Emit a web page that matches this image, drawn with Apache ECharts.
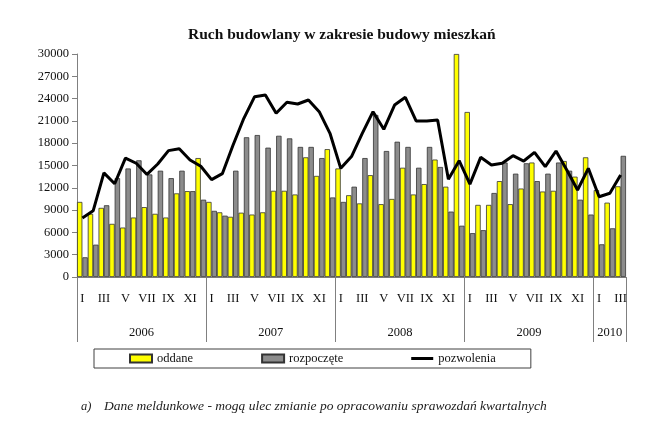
<!DOCTYPE html>
<html>
<head>
<meta charset="utf-8">
<script src="https://cdn.jsdelivr.net/npm/echarts@6/dist/echarts.min.js"></script>
<style>
html,body{margin:0;padding:0;background:#fff;}
#c{width:664px;height:432px;}
</style>
</head>
<body>
<div id="c"></div>
<script>
var years = ['2006', '2007', '2008', '2009', '2010'];
var monthRoman = ['I','II','III','IV','V','VI','VII','VIII','IX','X','XI','XII'];
var monthsPerYear = [12, 12, 12, 12, 3];

var oddane = [
  10100, 8500, 9300, 7150, 6650, 8000, 9400, 8500, 8000, 11250, 11550, 16000,
  10100, 8700, 8100, 8650, 8400, 8700, 11600, 11600, 11100, 16100, 13600, 17200,
  14600, 11000, 9900, 13700, 9800, 10500, 14700, 11100, 12500, 15800, 12150, 30000,
  22200, 9700, 9700, 12900, 9800, 11900, 15400, 11500, 11600, 15600, 13500, 16100,
  11700, 10000, 12200
];
var rozpoczete = [
  2650, 4350, 9650, 13300, 14600, 15700, 13800, 14300, 13300, 14300, 11550, 10400,
  8900, 8250, 14300, 18800, 19100, 17400, 19000, 18650, 17500, 17500, 16000, 10700,
  10100, 12150, 16000, 21800, 16950, 18200, 17500, 14700, 17500, 14800, 8800, 6900,
  5900, 6300, 11300, 15400, 13900, 15300, 12900, 13900, 15400, 14300, 10400, 8400,
  4400, 6550, 16300
];
var pozwolenia = [
  7950, 8900, 14000, 12550, 16000, 15300, 13800, 15200, 17000, 17250, 15750, 14900,
  13100, 13900, 17760, 21350, 24260, 24480, 22020, 23500, 23270, 23810, 22240, 19330,
  14620, 16200, 19330, 22240, 19870, 23130, 24170, 20990, 20990, 21120, 13140, 15650,
  12500, 16100, 15070, 15300, 16320, 15600, 16770, 14840, 16950, 14390, 11700, 14620,
  10800, 11260, 13720
];
var yTicks = [0, 3000, 6000, 9000, 12000, 15000, 18000, 21000, 24000, 27000, 30000];

var categories = [];
var yearStarts = [];
var yearCenters = [];
var n = 0;
years.forEach(function (y, yi) {
  yearStarts.push(n);
  yearCenters.push(n + monthsPerYear[yi] / 2);
  for (var m = 0; m < monthsPerYear[yi]; m++) {
    categories.push(y + '-' + (m + 1));
  }
  n += monthsPerYear[yi];
});
yearStarts.push(n);

var serif = '"Liberation Serif", "Times New Roman", serif';
var lineIcon = 'path://M0,0L22,0L22,0Z M0,2.6L22,2.6L22,5.4L0,5.4Z M0,8L22,8L22,8Z';
var chart = echarts.init(document.getElementById('c'), null, {renderer: 'canvas'});
chart.setOption({
  animation: false,
  backgroundColor: '#fff',
  textStyle: {fontFamily: serif},
  title: [
    {
      text: 'Ruch budowlany w zakresie budowy mieszkań',
      left: 183, top: 22,
      textStyle: {fontFamily: serif, fontSize: 15.5, fontWeight: 'bold', color: '#111'}
    },
    {
      text: 'a)',
      left: 76, top: 395,
      textStyle: {fontFamily: serif, fontSize: 12.5, fontStyle: 'italic', fontWeight: 'normal', color: '#222'}
    },
    {
      text: 'Dane meldunkowe - mogą ulec zmianie po opracowaniu sprawozdań kwartalnych',
      left: 99, top: 394,
      textStyle: {fontFamily: serif, fontSize: 13.5, fontStyle: 'italic', fontWeight: 'normal', color: '#222'}
    }
  ],
  legend: {
    left: 94, top: 349,
    padding: [3, 35, 3, 35],
    borderColor: '#404040', borderWidth: 1,
    itemWidth: 22, itemHeight: 8, itemGap: 68,
    textStyle: {fontFamily: serif, fontSize: 12.5, color: '#111'},
    data: [
      {name: 'oddane', icon: 'rect'},
      {name: 'rozpoczęte', icon: 'rect'},
      {name: 'pozwolenia', icon: lineIcon}
    ]
  },
  grid: {left: 77, right: 38, top: 54, bottom: 155, containLabel: false},
  xAxis: [
    {
      type: 'category',
      data: categories,
      boundaryGap: true,
      axisLine: {show: true, lineStyle: {color: '#808080', width: 1}},
      axisTick: {show: false},
      axisLabel: {
        interval: 0,
        margin: 15,
        fontFamily: serif, fontSize: 12.5, color: '#111',
        formatter: function (v) {
          var m = parseInt(v.split('-')[1], 10) - 1;
          return m % 2 === 0 ? monthRoman[m] : '';
        }
      },
      splitLine: {show: false}
    },
    {
      type: 'value',
      position: 'bottom',
      min: 0, max: n,
      axisLine: {show: false},
      splitLine: {show: false},
      axisTick: {
        show: true, inside: false, length: 65,
        customValues: yearStarts,
        lineStyle: {color: '#808080', width: 1}
      },
      axisLabel: {
        show: true, margin: 49,
        customValues: yearCenters,
        fontFamily: serif, fontSize: 12.5, color: '#111',
        formatter: function (v) {
          var i = yearCenters.indexOf(v);
          return i >= 0 ? years[i] : '';
        }
      }
    }
  ],
  yAxis: {
    type: 'value',
    min: yTicks[0], max: yTicks[yTicks.length - 1], interval: 3000,
    axisLine: {show: true, lineStyle: {color: '#808080', width: 1}},
    axisTick: {show: true, inside: false, length: 5, lineStyle: {color: '#808080'}},
    axisLabel: {
      margin: 8, fontFamily: serif, fontSize: 12.5, color: '#111',
      formatter: function (v) { return String(v); }
    },
    splitLine: {show: false}
  },
  series: [
    {
      name: 'oddane', type: 'bar', xAxisIndex: 0,
      data: oddane,
      barGap: '0%', barCategoryGap: '0%',
      itemStyle: {color: '#FFFF00', borderColor: '#333', borderWidth: 0.8}
    },
    {
      name: 'rozpoczęte', type: 'bar', xAxisIndex: 0,
      data: rozpoczete,
      barGap: '0%', barCategoryGap: '0%',
      itemStyle: {color: '#8C8C8C', borderColor: '#333', borderWidth: 0.8}
    },
    {
      name: 'pozwolenia', type: 'line', xAxisIndex: 0,
      data: pozwolenia,
      symbol: 'none', showSymbol: false, smooth: false,
      lineStyle: {color: '#000', width: 3},
      itemStyle: {color: '#000'},
      z: 5
    }
  ]
});
</script>
</body>
</html>
